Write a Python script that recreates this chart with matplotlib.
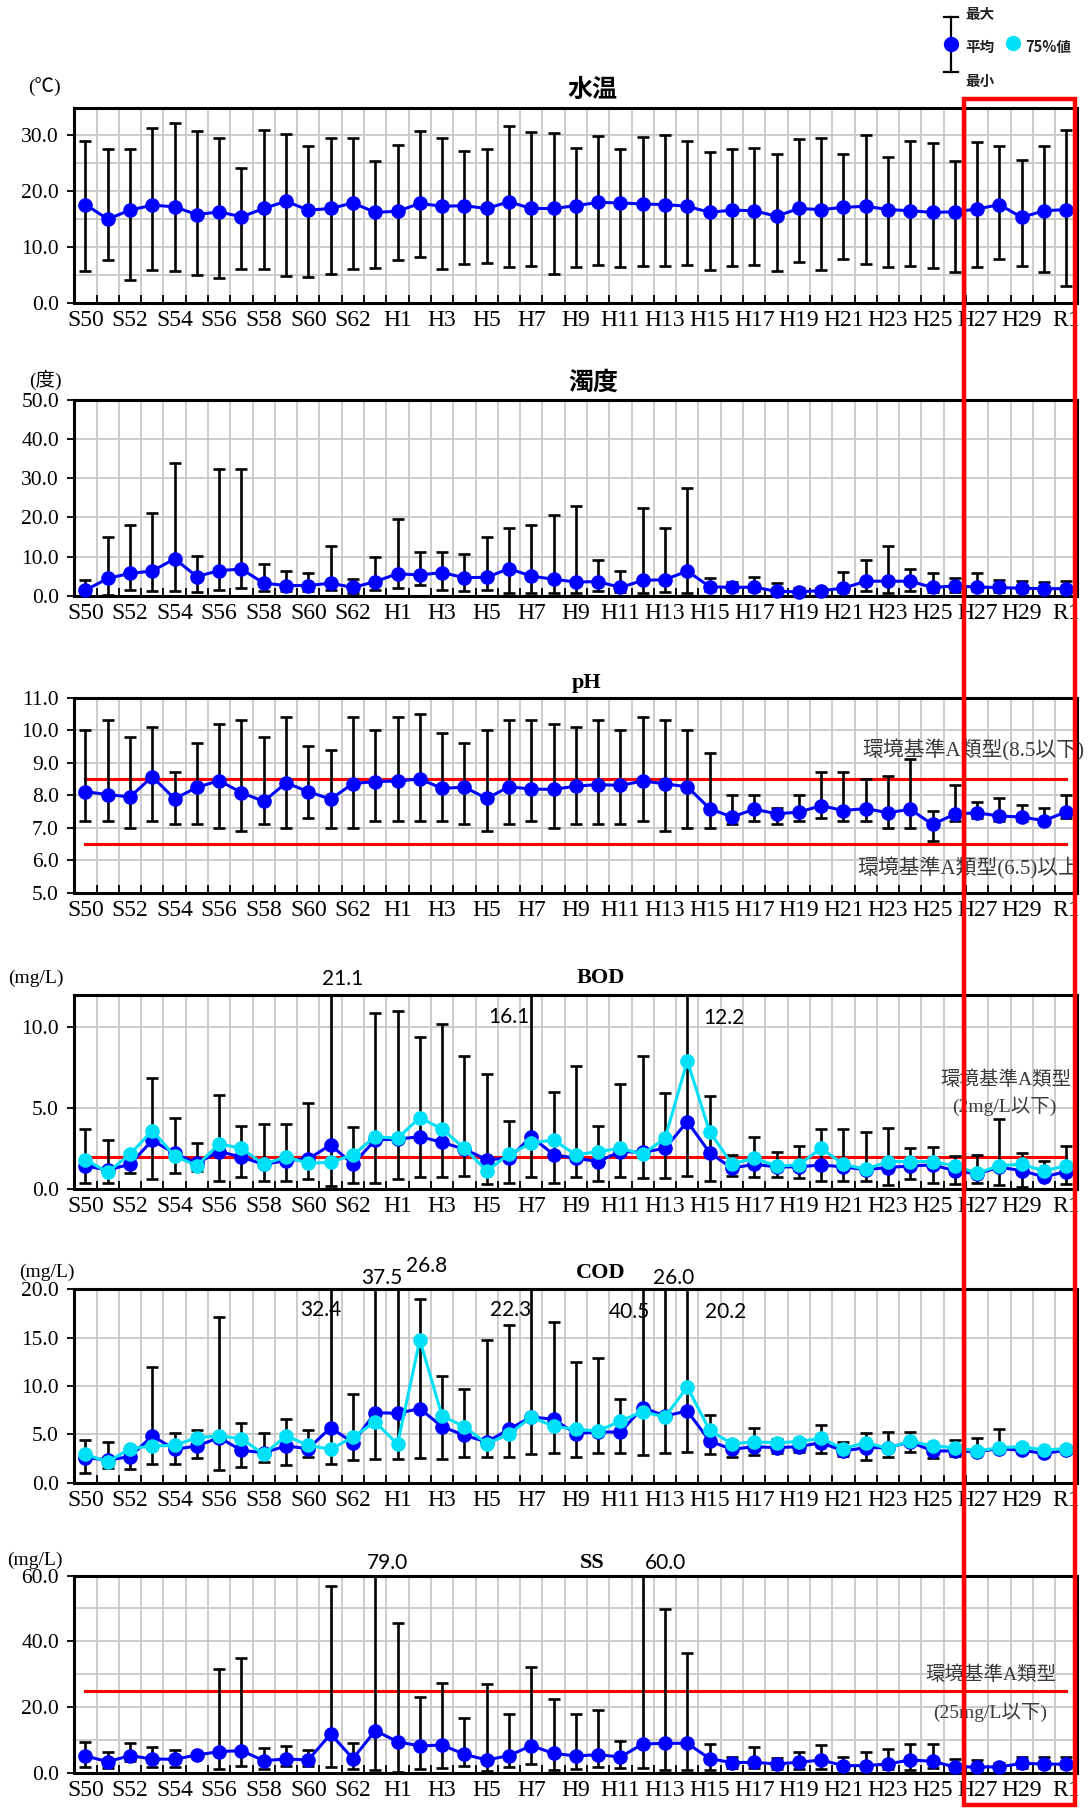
import matplotlib
matplotlib.use('Agg')
import matplotlib.pyplot as plt
from matplotlib.patches import Rectangle
import numpy as np

plt.rcParams['font.family'] = ['Liberation Serif', 'Noto Sans CJK JP']

# ---- data ----
years = (['S%d' % y for y in range(50, 64)] + ['H%d' % y for y in range(1, 31)] + ['R1'])

temp_mean = [17.6, 15.0, 16.6, 17.5, 17.2, 15.8, 16.3, 15.4, 16.9, 18.2, 16.6, 16.9, 17.9, 16.2,
             16.4, 17.8, 17.3, 17.4, 16.9, 18.1, 16.9, 16.9,
             17.4, 18.0, 17.9, 17.7, 17.6, 17.3, 16.2, 16.6, 16.5, 15.5, 16.9, 16.7, 17.1, 17.3, 16.7,
             16.5, 16.2, 16.3, 16.8, 17.6, 15.3, 16.5, 16.7]
temp_max = [29.0, 27.6, 27.5, 31.4, 32.2, 30.8, 29.5, 24.1, 30.9, 30.2, 28.2, 29.6, 29.6, 25.5,
            28.3, 30.8, 29.5, 27.3, 27.6, 31.7, 30.6, 30.4,
            27.8, 29.9, 27.5, 29.7, 30.0, 29.1, 27.0, 27.6, 27.8, 26.6, 29.3, 29.5, 26.6, 30.1, 26.2,
            29.1, 28.6, 25.5, 28.9, 28.2, 25.6, 28.1, 30.9]
temp_min = [5.6, 7.7, 4.1, 5.8, 5.6, 5.0, 4.5, 6.0, 6.0, 4.8, 4.6, 5.2, 6.0, 6.2,
            7.7, 8.2, 6.0, 6.9, 7.1, 6.4, 6.6, 5.1,
            6.4, 6.8, 6.4, 6.6, 6.5, 6.8, 5.9, 6.5, 6.8, 5.6, 7.3, 5.9, 7.8, 7.0, 6.4,
            6.5, 6.2, 5.5, 6.4, 7.8, 6.5, 5.5, 2.9]

turb_mean = [1.4, 4.4, 5.7, 6.3, 9.4, 4.9, 6.4, 6.8, 3.2, 2.6, 2.6, 3.2, 2.1, 3.6,
             5.6, 5.3, 5.9, 4.6, 4.7, 6.9, 5.0, 4.2,
             3.5, 3.6, 2.1, 3.9, 4.1, 6.3, 2.3, 2.1, 2.2, 1.1, 1.0, 1.3, 1.9, 3.7, 3.7,
             3.7, 2.1, 2.5, 2.2, 2.1, 1.9, 1.8, 1.8]
turb_max = [3.9, 15.0, 18.1, 21.0, 33.8, 10.1, 32.4, 32.4, 8.0, 6.2, 5.7, 12.7, 4.3, 10.0,
            19.5, 11.2, 11.2, 10.6, 15.0, 17.2, 18.0, 20.6,
            22.8, 9.1, 6.4, 22.4, 17.4, 27.4, 4.4, 3.5, 4.8, 3.2, 2.0, 2.0, 6.0, 9.0, 12.6,
            6.8, 5.7, 4.6, 5.8, 4.1, 3.8, 3.5, 3.8]
turb_min = [0.6, 0.1, 1.5, 1.3, 1.2, 1.0, 1.5, 1.9, 1.3, 1.2, 1.2, 1.4, 0.6, 1.4,
            1.9, 2.7, 1.5, 1.3, 1.5, 0.6, 0.6, 0.8,
            0.7, 1.3, 1.0, 0.7, 1.0, 0.7, 1.2, 1.2, 1.3, 0.7, 0.5, 0.5, 1.0, 1.1, 0.7,
            1.1, 1.0, 1.0, 1.2, 1.0, 1.0, 1.0, 1.0]

ph_mean = [8.11, 8.02, 7.95, 8.57, 7.89, 8.24, 8.45, 8.08, 7.81, 8.38, 8.11, 7.88, 8.36, 8.42,
           8.44, 8.50, 8.21, 8.25, 7.90, 8.26, 8.19, 8.18,
           8.28, 8.33, 8.30, 8.44, 8.35, 8.26, 7.59, 7.33, 7.57, 7.43, 7.48, 7.68, 7.53, 7.59, 7.46,
           7.57, 7.10, 7.42, 7.46, 7.36, 7.33, 7.22, 7.49]
ph_max = [10.0, 10.3, 9.8, 10.1, 8.7, 9.6, 10.2, 10.3, 9.8, 10.4, 9.5, 9.4, 10.4, 10.0,
          10.4, 10.5, 9.9, 9.6, 10.0, 10.3, 10.3, 10.2,
          10.1, 10.3, 10.0, 10.4, 10.3, 10.0, 9.3, 8.0, 8.0, 7.6, 8.0, 8.7, 8.7, 8.5, 8.6,
          9.1, 7.5, 8.3, 7.8, 7.9, 7.7, 7.6, 8.0]
ph_min = [7.2, 7.2, 7.0, 7.2, 7.1, 7.1, 7.0, 6.9, 7.1, 7.0, 7.3, 7.0, 7.0, 7.2,
          7.2, 7.2, 7.2, 7.1, 6.9, 7.1, 7.2, 7.0,
          7.1, 7.1, 7.1, 7.2, 6.9, 7.0, 7.0, 7.1, 7.2, 7.1, 7.2, 7.3, 7.2, 7.2, 7.0,
          7.0, 6.6, 7.2, 7.3, 7.2, 7.2, 7.1, 7.3]

bod_mean = [1.44, 1.19, 1.54, 3.02, 2.22, 1.60, 2.33, 1.98, 1.54, 1.77, 1.87, 2.74, 1.54, 3.05,
            3.09, 3.25, 2.90, 2.47, 1.83, 1.91, 3.25, 2.14,
            1.91, 1.71, 2.33, 2.28, 2.53, 4.18, 2.26, 1.30, 1.54, 1.38, 1.38, 1.50, 1.38, 1.21, 1.34,
            1.44, 1.50, 1.15, 0.95, 1.36, 1.15, 0.76, 1.09]
bod_p75 = [1.83, 1.05, 2.16, 3.62, 2.06, 1.46, 2.80, 2.53, 1.54, 2.00, 1.60, 1.67, 2.12, 3.25,
           3.15, 4.42, 3.72, 2.53, 1.13, 2.16, 2.84, 3.05,
           2.12, 2.33, 2.53, 2.16, 3.15, 7.92, 3.56, 1.56, 1.91, 1.44, 1.50, 2.53, 1.54, 1.23, 1.71,
           1.71, 1.71, 1.44, 0.99, 1.46, 1.54, 1.13, 1.46]
bod_max = [3.72, 3.05, 2.30, 6.89, 4.42, 2.84, 5.82, 3.93, 4.01, 4.01, 5.35, 21.1, 3.83, 10.9,
           11.0, 9.42, 10.2, 8.23, 7.14, 4.24, 16.1, 6.03,
           7.61, 3.91, 6.50, 8.23, 5.93, 12.2, 5.78, 2.12, 3.21, 2.33, 2.70, 3.72, 3.72, 3.56, 3.81,
           2.53, 2.59, 2.06, 2.12, 4.32, 2.22, 1.77, 2.70]
bod_min = [0.41, 0.41, 1.03, 0.64, 0.99, 1.13, 0.51, 0.74, 0.51, 0.51, 0.64, 0.23, 0.41, 0.41,
           0.64, 0.78, 0.78, 0.84, 0.31, 0.41, 0.78, 0.41,
           0.78, 0.51, 0.78, 0.72, 0.68, 0.84, 0.51, 0.82, 0.78, 0.78, 0.68, 0.53, 0.53, 0.53, 0.27,
           0.64, 0.41, 0.33, 0.37, 0.27, 0.16, 0.74, 0.33]

cod_mean = [2.59, 2.34, 2.69, 4.83, 3.45, 3.79, 4.66, 3.34, 3.10, 3.79, 3.52, 5.69, 4.14, 7.24,
            7.17, 7.66, 5.79, 4.90, 4.21, 5.52, 6.80, 6.55,
            5.07, 5.24, 5.24, 7.76, 6.90, 7.41, 4.31, 3.45, 3.72, 3.62, 3.72, 4.14, 3.28, 3.62, 3.62,
            4.21, 3.28, 3.28, 3.21, 3.52, 3.34, 3.03, 3.34]
cod_p75 = [2.93, 2.14, 3.52, 3.79, 3.86, 4.66, 4.83, 4.55, 2.93, 4.83, 3.86, 3.45, 4.72, 6.28,
           3.97, 14.76, 6.90, 5.79, 4.03, 5.00, 6.80, 5.82,
           5.52, 5.34, 6.38, 7.34, 6.79, 9.90, 5.41, 4.03, 4.21, 4.14, 4.24, 4.59, 3.52, 4.14, 3.55,
           4.31, 3.79, 3.62, 3.28, 3.62, 3.72, 3.38, 3.52]
cod_max = [4.41, 4.21, 3.60, 12.0, 5.17, 5.41, 17.14, 6.21, 5.17, 6.55, 5.41, 32.4, 9.14, 37.5,
           26.8, 18.97, 11.03, 9.72, 14.76, 16.28, 22.3, 16.6,
           12.52, 12.86, 8.62, 40.5, 26.0, 20.2, 6.97, 4.30, 5.69, 4.50, 4.50, 5.93, 4.21, 5.17, 5.28,
           5.28, 3.80, 4.41, 4.66, 5.52, 4.00, 3.50, 3.80]
cod_min = [1.03, 1.48, 1.45, 1.97, 1.90, 2.59, 1.31, 1.66, 2.14, 1.79, 2.69, 1.97, 2.31, 2.41,
           2.41, 2.59, 2.41, 2.69, 2.69, 2.69, 2.93, 3.03,
           2.69, 3.10, 3.10, 2.83, 3.03, 3.17, 2.93, 2.69, 2.83, 3.10, 3.20, 3.03, 2.76, 2.31, 2.69,
           3.17, 2.59, 2.76, 3.10, 3.30, 3.10, 2.80, 3.10]

ss_mean = [5.08, 3.35, 5.18, 4.16, 4.06, 5.38, 6.40, 6.70, 3.65, 4.16, 3.86, 11.78, 4.26, 12.79,
           9.44, 8.12, 8.43, 5.58, 3.86, 5.18, 8.22, 5.85,
           5.08, 5.48, 4.77, 8.73, 8.93, 8.93, 4.26, 3.05, 3.15, 2.64, 3.15, 3.86, 2.13, 2.13, 2.64,
           3.86, 3.45, 1.73, 1.73, 1.73, 2.84, 2.64, 2.54]
ss_max = [9.24, 6.29, 9.04, 7.82, 6.90, 5.90, 31.6, 34.8, 7.60, 8.20, 6.80, 56.9, 9.14, 79.0,
          45.7, 22.9, 27.3, 16.7, 27.0, 17.9, 32.1, 22.5,
          17.8, 19.1, 9.60, 60.0, 49.8, 36.3, 8.73, 4.67, 7.70, 4.57, 6.19, 8.32, 4.87, 6.40, 7.20,
          8.63, 8.63, 4.16, 3.86, 3.00, 4.87, 4.67, 4.67]
ss_min = [1.62, 1.52, 3.65, 1.83, 1.62, 4.90, 1.02, 2.13, 1.22, 2.13, 2.03, 1.83, 1.02, 0.81,
          0.30, 1.22, 1.52, 2.03, 0.61, 1.73, 2.54, 0.81,
          1.02, 1.83, 1.32, 1.32, 0.81, 0.81, 0.81, 1.50, 1.50, 1.00, 1.00, 1.12, 1.00, 1.00, 1.00,
          0.81, 1.50, 1.00, 1.00, 1.00, 1.50, 1.50, 1.50]

BLUE = '#0000ff'
CYAN = '#00e0f8'
GRID = '#c8c8c8'
W, H = 1089, 1809

fig = plt.figure(figsize=(W / 100, H / 100), dpi=100)


def panel(rect, mean, lo, hi, ylim, yticks, ygrid, p75=None):
    ax = fig.add_axes(rect)
    x = np.arange(len(years))
    m = np.array(mean)
    ax.errorbar(x, m, yerr=[m - np.array(lo), np.array(hi) - m], fmt='none',
                ecolor='black', elinewidth=1.9, capsize=4.5, capthick=1.9, zorder=3)
    ax.plot(x, m, '-o', color=BLUE, lw=2.2, ms=9.5, zorder=4, clip_on=False)
    if p75 is not None:
        ax.plot(x, p75, '-o', color=CYAN, lw=2.2, ms=9.5, zorder=5, clip_on=False)
    ax.set_xlim(-0.5, len(years) - 0.5)
    ax.set_ylim(*ylim)
    ax.set_xticks(x[::2])
    ax.set_xticklabels(years[::2])
    ax.set_xticks(np.arange(0.5, len(years) - 1, 1), minor=True)
    ax.tick_params(axis='x', which='major', length=0, labelsize=17, pad=5)
    ax.tick_params(axis='x', which='minor', direction='in', length=6, width=1.3, color='black')
    ax.set_yticks(yticks)
    ax.set_yticklabels(['%.1f' % v for v in yticks])
    ax.set_yticks(ygrid, minor=True)
    ax.tick_params(axis='y', which='major', direction='out', length=5, width=1.3, labelsize=15.5, pad=6)
    ax.tick_params(axis='y', which='minor', length=0)
    ax.grid(True, axis='x', which='minor', color=GRID, lw=1.3)
    ax.grid(True, axis='y', which='both', color=GRID, lw=1.3)
    ax.set_axisbelow(True)
    for s in ax.spines.values():
        s.set_linewidth(2.2)
    return ax


def std_line(ax, val):
    ax.plot([0, len(years) - 1], [val, val], color='red', lw=2.2, zorder=2.5)


def note(ax, xd, yf, s, **kw):
    ax.text(xd, yf, s, transform=ax.get_xaxis_transform(), ha='center', va='center',
            fontsize=15, family=['Lato', 'DejaVu Sans'], clip_on=False, **kw)


def std_text(ax, xd, yv, s, ha='center', size=14):
    ax.text(xd, yv, s, ha=ha, va='center', fontsize=size, color='#3a3a3a',
            family=['Liberation Serif', 'Noto Sans CJK JP'], clip_on=False, zorder=6)


L, Wd = 0.0682, 0.9212

# 水温
ax1 = panel([L, 0.8327, Wd, 0.1078], temp_mean, temp_min, temp_max, (0, 35),
            [0, 10, 20, 30], np.arange(0, 36, 5))

# 濁度
ax2 = panel([L, 0.6707, Wd, 0.1083], turb_mean, turb_min, turb_max, (0, 50),
            [0, 10, 20, 30, 40, 50], np.arange(0, 51, 10))

# pH
ax3 = panel([L, 0.5065, Wd, 0.1078], ph_mean, ph_min, ph_max, (5, 11),
            np.arange(5, 12, 1), np.arange(5, 11.1, 1))
std_line(ax3, 8.5)
std_line(ax3, 6.5)
std_text(ax3, 44.8, 9.39, '環境基準A類型(8.5以下)', ha='right', size=15)
std_text(ax3, 44.6, 5.76, '環境基準A類型(6.5)以上', ha='right', size=15)

# BOD
ax4 = panel([L, 0.3426, Wd, 0.1074], bod_mean, bod_min, bod_max, (0, 12),
            [0, 5, 10], [5, 10], p75=bod_p75)
std_line(ax4, 2.0)
std_text(ax4, 41.3, 6.75, '環境基準A類型')
std_text(ax4, 41.2, 5.1, '(2mg/L以下)')
note(ax4, 11.54, 1.082, '21.1')
note(ax4, 18.98, 0.887, '16.1')
note(ax4, 28.65, 0.883, '12.2')

# COD
ax5 = panel([L, 0.1804, Wd, 0.1069], cod_mean, cod_min, cod_max, (0, 20),
            [0, 5, 10, 15, 20], [5, 10, 15], p75=cod_p75)
note(ax5, 10.55, 0.893, '32.4')
note(ax5, 13.29, 1.058, '37.5')
note(ax5, 15.3, 1.12, '26.8')
note(ax5, 19.06, 0.893, '22.3')
note(ax5, 24.41, 0.884, '40.5')
note(ax5, 26.38, 1.058, '26.0')
note(ax5, 28.7, 0.884, '20.2')

# SS
ax6 = panel([L, 0.0201, Wd, 0.1089], ss_mean, ss_min, ss_max, (0, 60),
            [0, 20, 40, 60], np.arange(0, 61, 10))
std_line(ax6, 25)
std_text(ax6, 40.6, 29.8, '環境基準A類型')
std_text(ax6, 40.6, 18.3, '(25mg/L以下)')
note(ax6, 13.53, 1.066, '79.0')
note(ax6, 26.02, 1.066, '60.0')

# titles and units (figure pixel positions)
def ftext(px, py, s, **kw):
    fig.text(px / W, 1 - py / H, s, ha='center', va='center', **kw)

ftext(592, 90, '水温', fontsize=18, weight='bold', family='Noto Sans CJK JP')
ftext(593, 383, '濁度', fontsize=18, weight='bold', family='Noto Sans CJK JP')
ftext(587, 683, 'pH', fontsize=16, weight='bold')
ftext(601, 978, 'BOD', fontsize=16, weight='bold')
ftext(601, 1273, 'COD', fontsize=16, weight='bold')
ftext(592, 1563, 'SS', fontsize=16, weight='bold')

ftext(44, 87, '(℃)', fontsize=14)
ftext(45, 380, '(度)', fontsize=14)
ftext(36, 978, '(mg/L)', fontsize=14)
ftext(47, 1272, '(mg/L)', fontsize=14)
ftext(35, 1560, '(mg/L)', fontsize=14)

# overlay: legend and highlight box, in pixel units
ov = fig.add_axes([0, 0, 1, 1], zorder=10)
ov.set_xlim(0, W)
ov.set_ylim(H, 0)
ov.axis('off')
ov.patch.set_alpha(0)

ov.plot([951, 951], [17, 72], color='black', lw=1.6)
ov.plot([944, 958], [17, 17], color='black', lw=1.6)
ov.plot([944, 958], [72, 72], color='black', lw=1.6)
ov.plot([951], [44], 'o', color=BLUE, ms=10)
ov.plot([1013], [43], 'o', color=CYAN, ms=10)
lk = dict(fontsize=10.5, weight='bold', family='Noto Sans CJK JP', va='center', ha='left', color='#222222')
ov.text(965, 14, '最大', **lk)
ov.text(965, 47, '平均', **lk)
ov.text(965, 81, '最小', **lk)
ov.text(1025, 47, '75%値', **lk)

ov.add_patch(Rectangle((964, 99), 111, 1706, fill=False, edgecolor='red', lw=3.2))

fig.savefig('out.png', dpi=100)
